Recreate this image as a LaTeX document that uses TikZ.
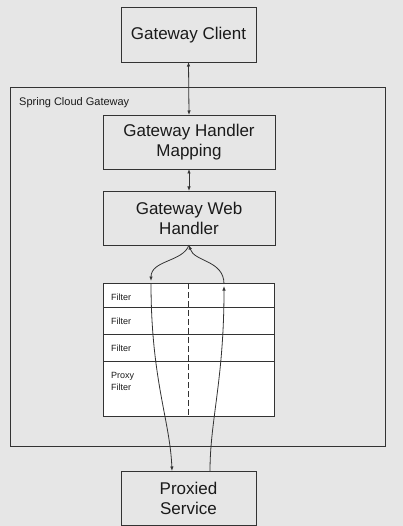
\documentclass[tikz,border=0pt]{standalone}
\usepackage{fontspec}
\setmainfont{Liberation Sans}
\usetikzlibrary{arrows.meta}
\definecolor{bg}{HTML}{E6E6E6}
\definecolor{ln}{HTML}{333333}
\definecolor{tx}{HTML}{1A1A1A}
\begin{document}
\begin{tikzpicture}[x=1pt,y=-1pt,
  box/.style={draw=ln,line width=0.9pt,inner sep=0pt,outer sep=0pt,align=center,text=tx,font=\fontsize{17}{20}\selectfont},
  frow/.style={draw=ln,line width=0.9pt,fill=white,inner sep=0pt,outer sep=0pt,minimum width=171pt,anchor=north west},
  ftext/.style={text=tx,font=\fontsize{9}{12}\selectfont,inner sep=0pt,anchor=west,align=left},
  conn/.style={draw=ln,line width=0.8pt},
  tip/.style={-{Latex[length=4.5pt,width=3.5pt]}},
  bitip/.style={{Latex[length=4.5pt,width=3.5pt]}-{Latex[length=4.5pt,width=3.5pt]}}]
\fill[bg] (0,0) rectangle (403,526);
\useasboundingbox (0,0) rectangle (403,526);
% outer frame
\node[draw=ln,line width=0.9pt,minimum width=375pt,minimum height=359pt,inner sep=0pt] (scg) at (197.5,266.5) {};
\node[text=tx,font=\fontsize{11}{13}\selectfont,anchor=west,inner sep=0pt] (scgl) at (19,103) {Spring Cloud Gateway};
% boxes
\node[box,minimum width=135pt,minimum height=55pt,text depth=2pt] (client) at (188.5,34.5) {Gateway Client};
\node[box,minimum width=172pt,minimum height=54pt] (hm) at (189,142) {Gateway Handler\\Mapping};
\node[box,minimum width=172pt,minimum height=54pt] (wh) at (189,218) {Gateway Web\\Handler};
\node[box,minimum width=135pt,minimum height=54pt] (ps) at (188.5,498) {Proxied\\Service};
% filter table
\node[frow,minimum height=24pt] (f1) at (103,283) {};
\node[frow,minimum height=27pt] (f2) at (103,307) {};
\node[frow,minimum height=27pt] (f3) at (103,334) {};
\node[frow,minimum height=55pt] (pf) at (103,361) {};
\node[ftext] (t1) at (111,297) {Filter};
\node[ftext] (t2) at (111,321) {Filter};
\node[ftext] (t3) at (111,348) {Filter};
\node[ftext,anchor=north west,font=\fontsize{9}{12}\selectfont] (t4) at (111,372) {Proxy\\Filter};
\coordinate (dtop) at (188,283);
\coordinate (dbot) at (188,416);
\draw[ln,line width=0.8pt,dash pattern=on 6pt off 3pt] (dtop) -- (dbot);
% connectors
\draw[conn,bitip] (client.south) -- (hm.north);
\draw[conn,bitip] (hm.south) -- (wh.north);
\coordinate (lsplit) at (151,281);
\coordinate (rsplit) at (224,284);
\coordinate (lstart) at (151,283);
\coordinate (rend) at (224,286);
\coordinate (psl) at (172,471);
\coordinate (psr) at (210,471);
\draw[conn,tip] (wh.south) .. controls (183,262) and (151,260) .. (lsplit);
\draw[conn,{Latex[length=4.5pt,width=3.5pt]}-] (wh.south) .. controls (194,262) and (224,260) .. (rsplit);
\draw[conn,tip] (lstart) .. controls (151,380) and (170,420) .. (psl);
\draw[conn,tip] (psr) .. controls (210,420) and (224,380) .. (rend);
\end{tikzpicture}
\end{document}
